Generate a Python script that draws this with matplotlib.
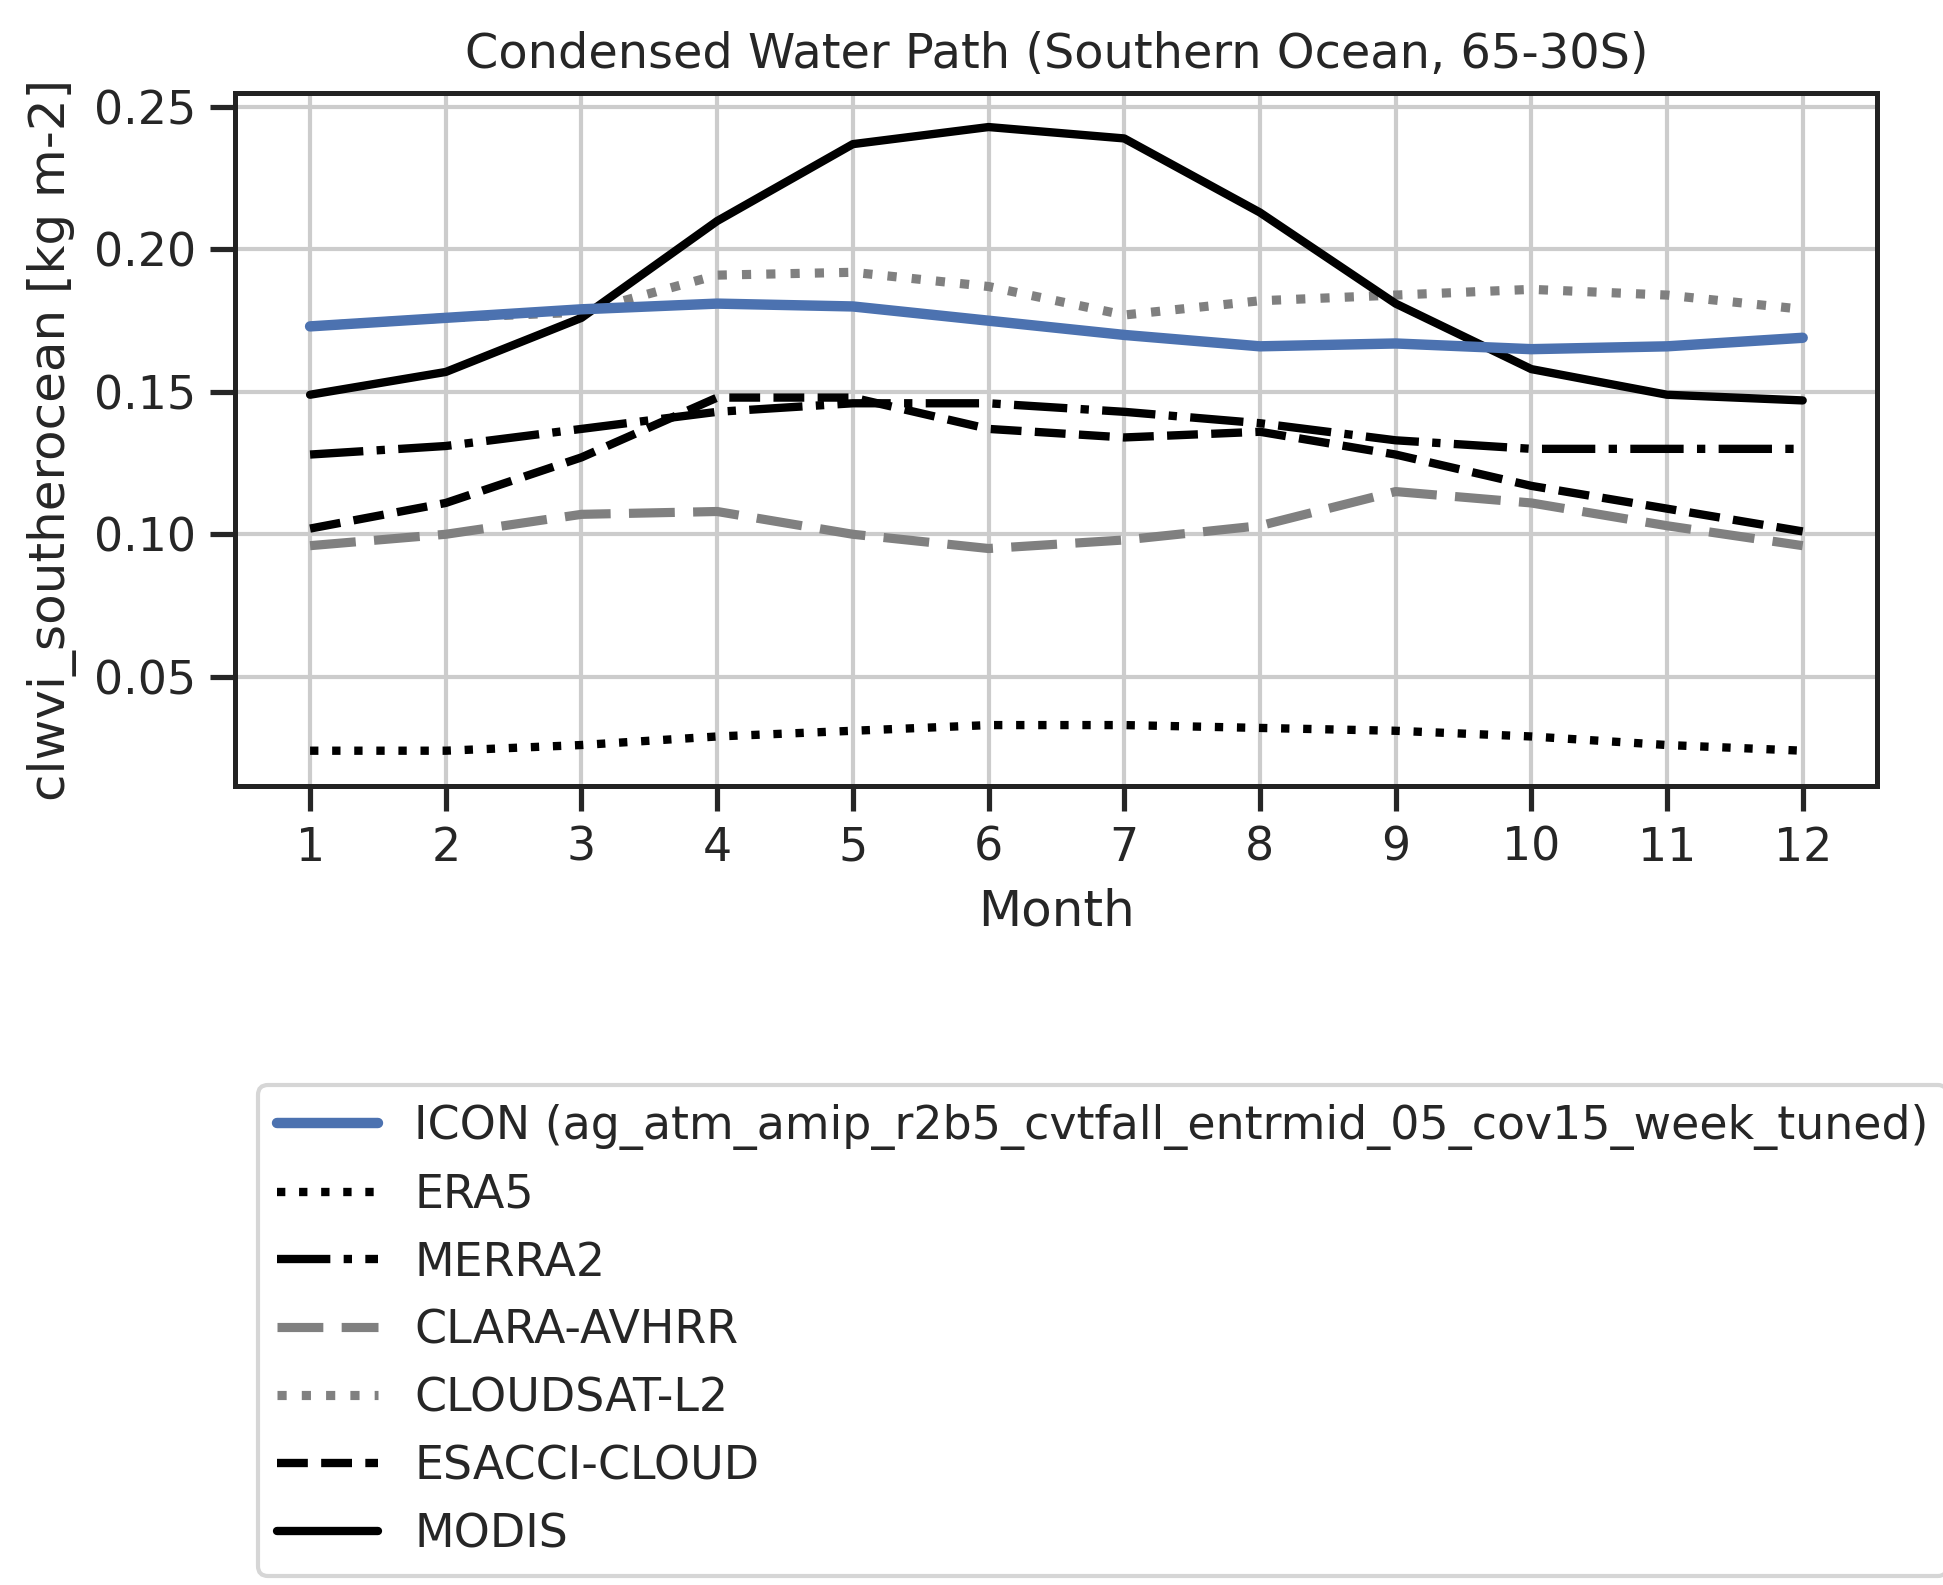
import matplotlib
matplotlib.use("Agg")
import matplotlib.pyplot as plt
import seaborn as sns

months = list(range(1, 13))
icon = [0.173,0.176,0.179,0.181,0.180,0.175,0.170,0.166,0.167,0.165,0.166,0.169]
era5 = [0.024,0.024,0.026,0.029,0.031,0.033,0.033,0.032,0.031,0.029,0.026,0.024]
merra2 = [0.128,0.131,0.137,0.143,0.146,0.146,0.143,0.139,0.133,0.130,0.130,0.130]
clara = [0.096,0.100,0.107,0.108,0.100,0.095,0.098,0.103,0.115,0.111,0.103,0.096]
cloudsat = [0.173,0.176,0.178,0.191,0.192,0.187,0.177,0.182,0.184,0.186,0.184,0.179]
esacci = [0.102,0.111,0.127,0.148,0.148,0.137,0.134,0.136,0.128,0.117,0.109,0.101]
modis = [0.149,0.157,0.176,0.210,0.237,0.243,0.239,0.213,0.181,0.158,0.149,0.147]

sns.set_theme(style="whitegrid", context="notebook", font_scale=1.0)
plt.rcParams.update({"xtick.bottom": True, "ytick.left": True, "axes.edgecolor": "#222222"})
fig = plt.figure(figsize=(1943/300, 1585/300), dpi=300)
ax = fig.add_axes([190/1568, 1-635/1280, (1515-190)/1568, (635-75)/1280])
ax.plot(months, cloudsat, color="gray", ls=":", lw=2.2, label="CLOUDSAT-L2", zorder=2)
ax.plot(months, icon, color="#4c72b0", lw=2.5, label="ICON (ag_atm_amip_r2b5_cvtfall_entrmid_05_cov15_week_tuned)", zorder=3)
ax.plot(months, era5, color="black", ls=":", lw=2, label="ERA5")
ax.plot(months, merra2, color="black", ls="-.", lw=2, label="MERRA2")
ax.plot(months, clara, color="gray", ls=(0, (5, 2)), lw=2.2, label="CLARA-AVHRR")
ax.plot(months, esacci, color="black", ls="--", lw=2, label="ESACCI-CLOUD")
ax.plot(months, modis, color="black", lw=2, label="MODIS")
ax.set_xticks(months)
ax.set_xlim(0.45, 12.55)
ax.set_ylim(0.0115, 0.255)
ax.set_yticks([0.05, 0.10, 0.15, 0.20, 0.25])
ax.set_xlabel("Month")
ax.set_ylabel("clwvi_southerocean [kg m-2]")
ax.set_title("Condensed Water Path (Southern Ocean, 65-30S)", fontsize=11.5)
for s in ax.spines.values():
    s.set_linewidth(1.2)
h, l = ax.get_legend_handles_labels()
order = [1, 2, 3, 4, 0, 5, 6]
fig.legend([h[i] for i in order], [l[i] for i in order], loc="upper left",
           bbox_to_anchor=(190/1568, 1-858/1280), frameon=True, handlelength=2.2)
fig.savefig("out.png", dpi=300)
